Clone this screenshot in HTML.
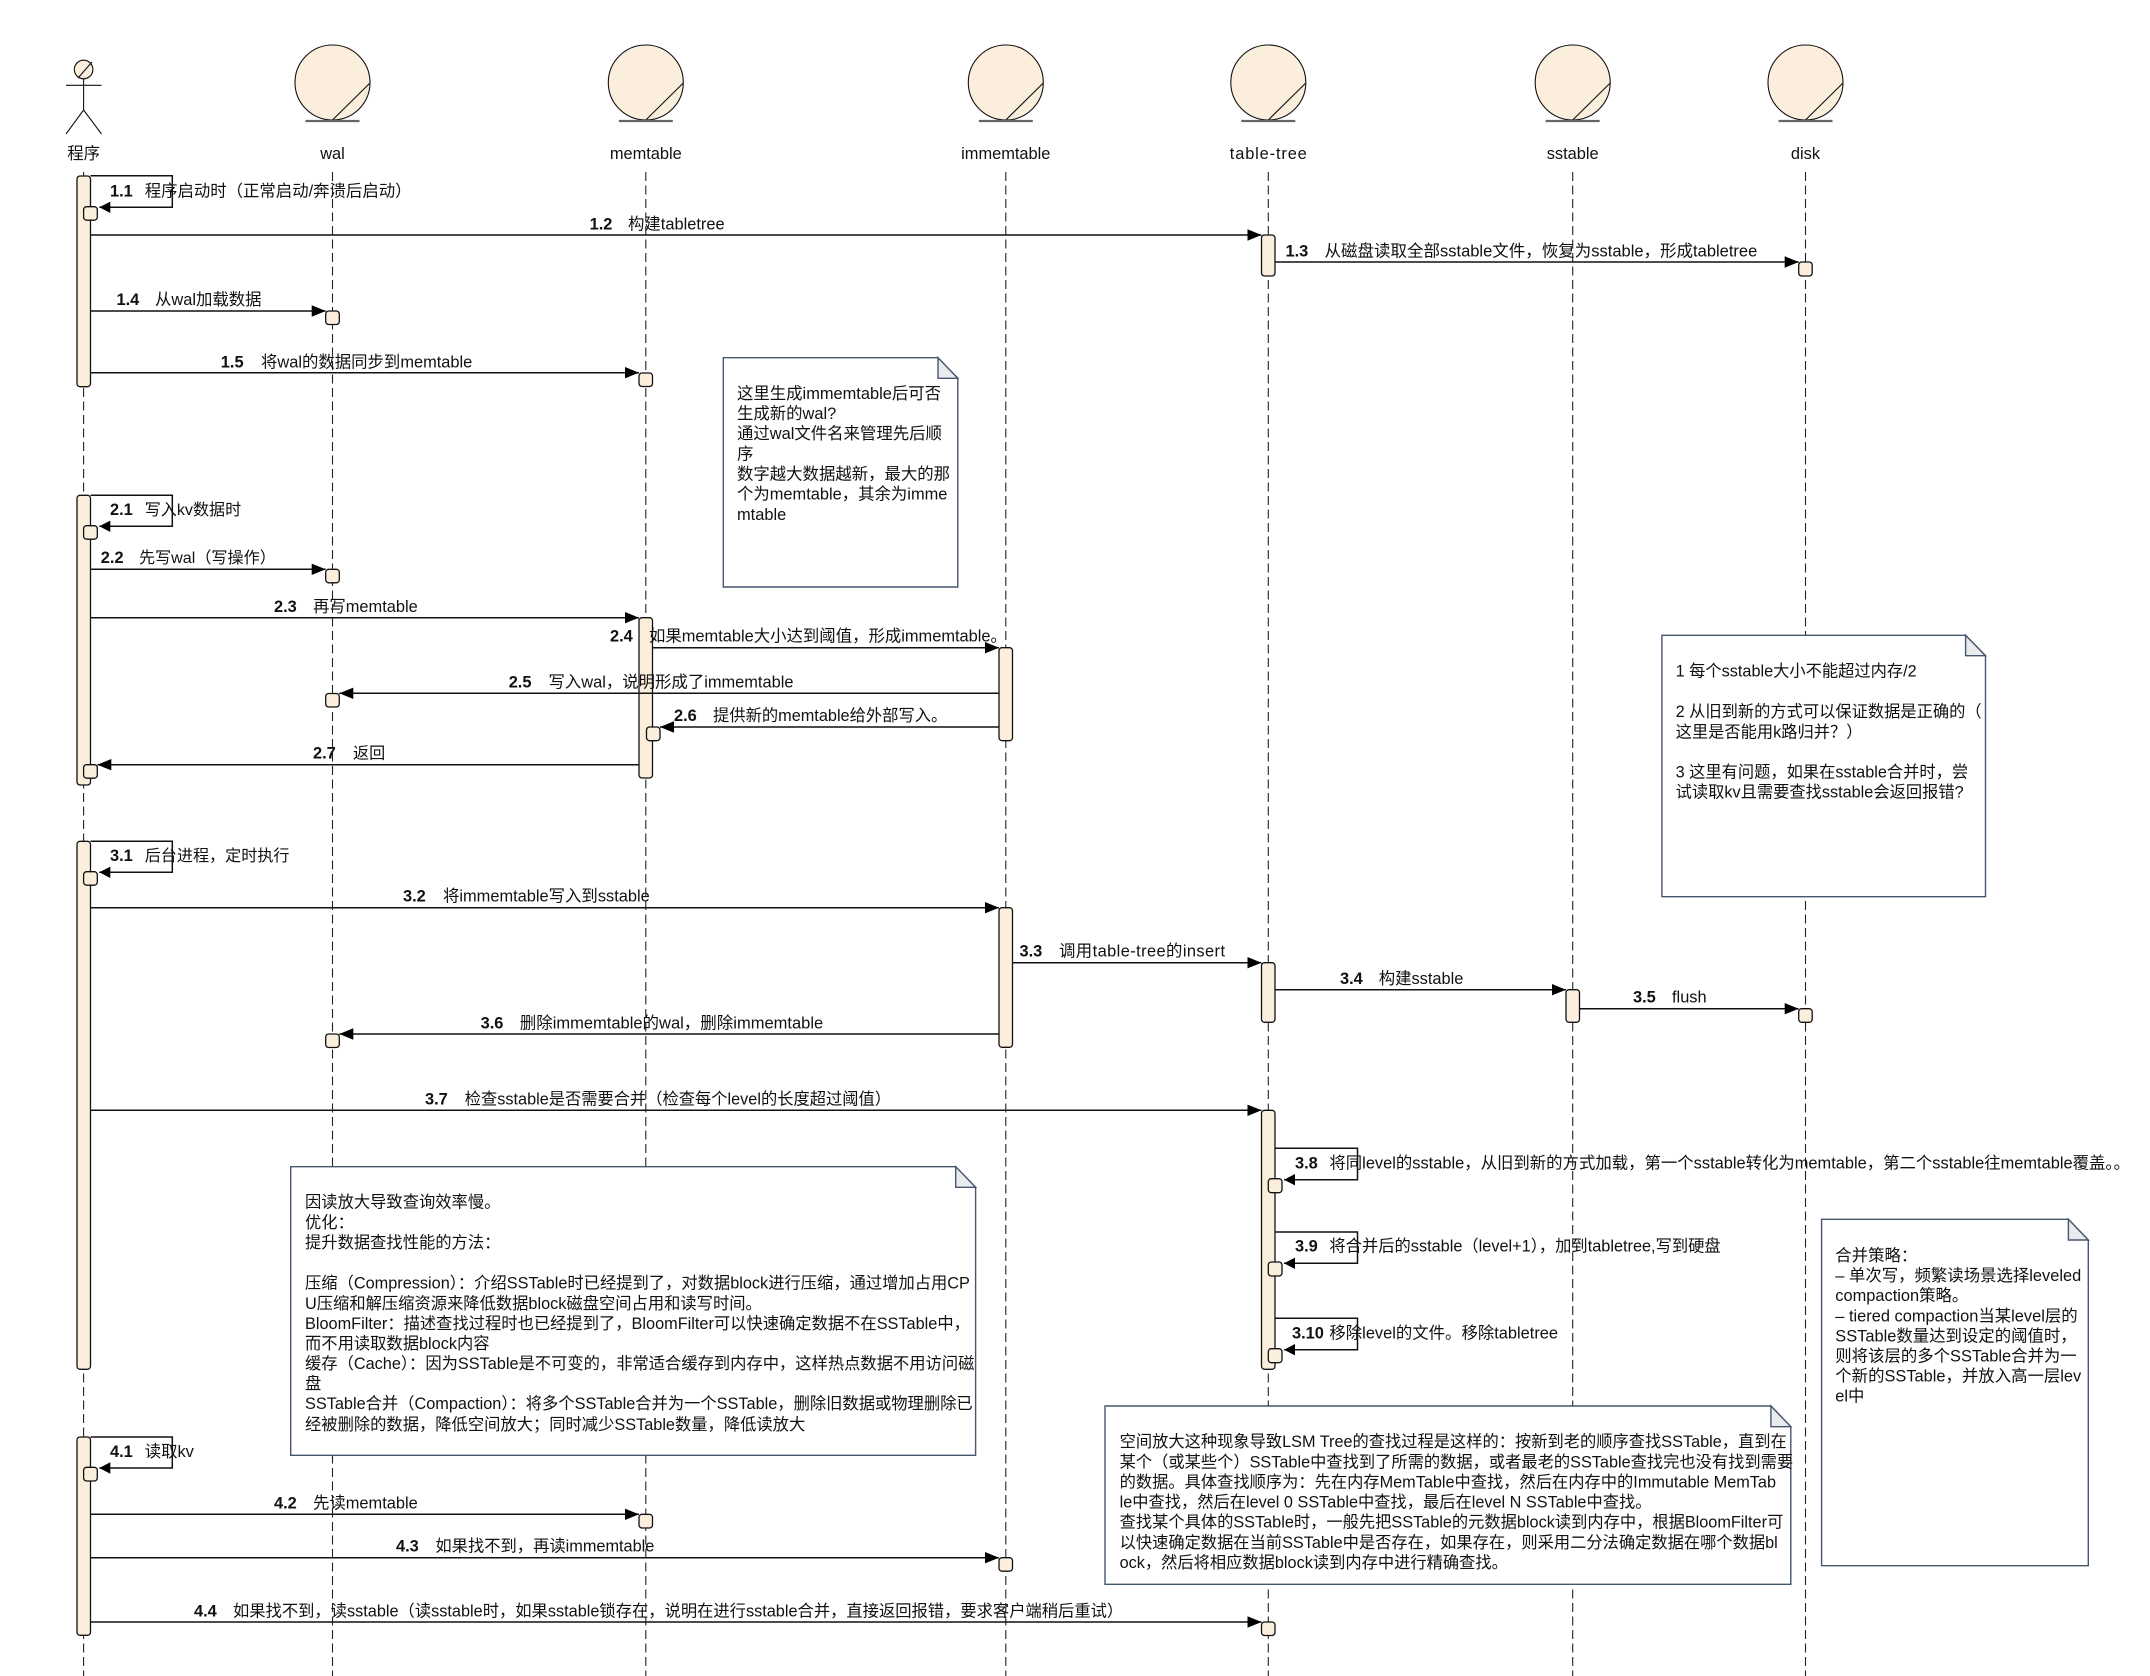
<!DOCTYPE html>
<html><head><meta charset="utf-8"><style>
html,body{margin:0;padding:0;background:#fff}
svg{display:block}
text{font-family:"Liberation Sans","Noto Sans CJK SC",sans-serif;font-size:16.4px;fill:#111}
.n{font-weight:bold}
.c{text-anchor:middle}
.life{stroke:#222;stroke-width:1.1;stroke-dasharray:9 4.5;fill:none}
.bar{fill:#fbeedd;stroke:#111;stroke-width:1.3}
.msg{stroke:#111;stroke-width:1.5;fill:none;marker-end:url(#a)}
.self{stroke:#111;stroke-width:1.5;fill:none;marker-end:url(#s)}
.note{fill:#fff;stroke:#46566e;stroke-width:1.4}
.fold{fill:#e9ebee;stroke:#46566e;stroke-width:1.4}
.ent{fill:#fbeedd;stroke:#111;stroke-width:1.1}
.base{stroke:#666;stroke-width:2.2}
.d{stroke:#111;stroke-width:1.1;fill:none}
.s1{font-size:16.1px}.s2{font-size:16.25px}.s3{font-size:16.3px}.s5{font-size:16.5px}
</style></head><body>
<svg xmlns="http://www.w3.org/2000/svg" width="2150" height="1676" viewBox="0 0 2150 1676">
<defs>
<marker id="a" markerUnits="userSpaceOnUse" markerWidth="15" markerHeight="13" refX="14" refY="6.5" orient="auto"><path d="M0 .8L14 6.5L0 12.2Z" fill="#000"/></marker>
<marker id="s" markerUnits="userSpaceOnUse" markerWidth="12" markerHeight="13" refX="11" refY="6.5" orient="auto"><path d="M0 .8L11 6.5L0 12.2Z" fill="#000"/></marker>
</defs>
<rect width="2150" height="1676" fill="#fff"/>

<!-- lifelines -->
<path class="life" d="M83.6 172V1676M332.5 172V1676M645.8 172V1676M1005.8 172V1676M1268.3 172V1676M1572.7 172V1676M1805.5 172V1676"/>

<!-- actor -->
<ellipse class="ent" cx="83.6" cy="69.5" rx="9.3" ry="9.3"/>
<path class="d" d="M78 78L92 62M66 85.3H101.5M83.6 79V110M83.6 110L66 134M83.6 110L101.5 134"/>
<!-- entities -->
<circle class="ent" cx="332.5" cy="82.5" r="37.5"/><path class="d" d="M332.5 120L370 83"/><path class="base" d="M305.5 121H359.5"/>
<circle class="ent" cx="645.8" cy="82.5" r="37.5"/><path class="d" d="M645.8 120L683.3 83"/><path class="base" d="M618.8 121H672.8"/>
<circle class="ent" cx="1005.8" cy="82.5" r="37.5"/><path class="d" d="M1005.8 120L1043.3 83"/><path class="base" d="M978.8 121H1032.8"/>
<circle class="ent" cx="1268.3" cy="82.5" r="37.5"/><path class="d" d="M1268.3 120L1305.8 83"/><path class="base" d="M1241.3 121H1295.3"/>
<circle class="ent" cx="1572.7" cy="82.5" r="37.5"/><path class="d" d="M1572.7 120L1610.2 83"/><path class="base" d="M1545.7 121H1599.7"/>
<circle class="ent" cx="1805.5" cy="82.5" r="37.5"/><path class="d" d="M1805.5 120L1843 83"/><path class="base" d="M1778.5 121H1832.5"/>
<g transform="translate(0,-1)">
<text class="c" x="83.6" y="160">程序</text>
<text class="c" x="332.5" y="160">wal</text>
<text class="c" x="645.8" y="160">memtable</text>
<text class="c" x="1005.8" y="160">immemtable</text>
<text class="c" x="1268.3" y="160" textLength="77">table-tree</text>
<text class="c" x="1572.7" y="160">sstable</text>
<text class="c" x="1805.5" y="160">disk</text>
</g>

<!-- big activation bars -->
<rect class="bar" x="77" y="176" width="13.5" height="210.7" rx="3"/>
<rect class="bar" x="77" y="495.3" width="13.5" height="289.7" rx="3"/>
<rect class="bar" x="77" y="841.3" width="13.5" height="528" rx="3"/>
<rect class="bar" x="77" y="1437" width="13.5" height="198.3" rx="3"/>
<rect class="bar" x="639" y="617.7" width="13.5" height="160.3" rx="3"/>
<rect class="bar" x="999" y="647.7" width="13.5" height="93" rx="3"/>
<rect class="bar" x="999" y="907.7" width="13.5" height="139.6" rx="3"/>
<rect class="bar" x="1261.5" y="235" width="13.5" height="41" rx="3"/>
<rect class="bar" x="1261.5" y="962.7" width="13.5" height="59.6" rx="3"/>
<rect class="bar" x="1261.5" y="1110.3" width="13.5" height="259" rx="3"/>
<rect class="bar" x="1566" y="989.7" width="13.5" height="32.6" rx="3"/>
<!-- small bars -->
<rect class="bar" x="83.6" y="206.7" width="13.7" height="13.5" rx="3"/>
<rect class="bar" x="325.7" y="311" width="13.6" height="13.5" rx="3"/>
<rect class="bar" x="639" y="373" width="13.5" height="13.5" rx="3"/>
<rect class="bar" x="1798.7" y="262" width="13.5" height="14" rx="3"/>
<rect class="bar" x="83.6" y="525.7" width="13.7" height="13.5" rx="3"/>
<rect class="bar" x="325.7" y="569.3" width="13.6" height="13.5" rx="3"/>
<rect class="bar" x="325.7" y="693.5" width="13.6" height="13.5" rx="3"/>
<rect class="bar" x="646.5" y="727" width="13.5" height="13.7" rx="3"/>
<rect class="bar" x="83.6" y="764.7" width="13.7" height="13.5" rx="3"/>
<rect class="bar" x="83.6" y="871.7" width="13.7" height="13.5" rx="3"/>
<rect class="bar" x="325.7" y="1034" width="13.6" height="13.5" rx="3"/>
<rect class="bar" x="1798.7" y="1008.7" width="13.5" height="13.6" rx="3"/>
<rect class="bar" x="1268.3" y="1178.7" width="13.7" height="14" rx="3"/>
<rect class="bar" x="1268.3" y="1262" width="13.7" height="14" rx="3"/>
<rect class="bar" x="1268.3" y="1348.7" width="13.7" height="14" rx="3"/>
<rect class="bar" x="83.6" y="1467.3" width="13.7" height="13.7" rx="3"/>
<rect class="bar" x="639" y="1514.3" width="13.5" height="13.7" rx="3"/>
<rect class="bar" x="999" y="1557.7" width="13.5" height="13.5" rx="3"/>
<rect class="bar" x="1261.5" y="1622" width="13.5" height="13.5" rx="3"/>

<!-- messages -->
<path class="self" d="M90.5 175.7H172.3V207.3H99.3"/>
<path class="msg" d="M90.5 235H1261.5"/>
<path class="msg" d="M1275 262H1798.7"/>
<path class="msg" d="M90.5 311H325.7"/>
<path class="msg" d="M90.5 372.7H639"/>
<path class="self" d="M90.5 495.3H172.3V526.3H99.3"/>
<path class="msg" d="M90.5 569.3H325.7"/>
<path class="msg" d="M90.5 617.7H639"/>
<path class="msg" d="M652.5 647.7H999"/>
<path class="msg" d="M999 693.3H339.3"/>
<path class="msg" d="M999 727H660"/>
<path class="msg" d="M639 764.7H97.3"/>
<path class="self" d="M90.5 841.3H172.3V872.3H99.3"/>
<path class="msg" d="M90.5 907.7H999"/>
<path class="msg" d="M1012.5 962.7H1261.5"/>
<path class="msg" d="M1275 989.7H1566"/>
<path class="msg" d="M1579.5 1008.7H1798.7"/>
<path class="msg" d="M999 1034H339.3"/>
<path class="msg" d="M90.5 1110.3H1261.5"/>
<path class="self" d="M1275 1148.3H1357.5V1179.7H1284"/>
<path class="self" d="M1275 1232H1357.5V1263.3H1284"/>
<path class="self" d="M1275 1318.3H1357.5V1349.7H1284"/>
<path class="self" d="M90.5 1437H172.3V1468H99.3"/>
<path class="msg" d="M90.5 1514.3H639"/>
<path class="msg" d="M90.5 1557.7H999"/>
<path class="msg" d="M90.5 1622H1261.5"/>

<!-- notes -->
<path class="note" d="M723.3 357.7H938L957.8 378.3V587H723.3Z"/><path class="fold" d="M938 357.7V378.3H957.8Z"/>
<path class="note" d="M1661.9 635.3H1965.6L1985.5 655.7V896.7H1661.9Z"/><path class="fold" d="M1965.6 635.3V655.7H1985.5Z"/>
<path class="note" d="M290.7 1166.7H955.7L975.6 1187.3V1455.3H290.7Z"/><path class="fold" d="M955.7 1166.7V1187.3H975.6Z"/>
<path class="note" d="M1105 1406H1770.9L1790.8 1426.7V1584.3H1105Z"/><path class="fold" d="M1770.9 1406V1426.7H1790.8Z"/>
<path class="note" d="M1821.6 1219.3H2068.4L2088.3 1240V1565.7H1821.6Z"/><path class="fold" d="M2068.4 1219.3V1240H2088.3Z"/>

<g transform="translate(0,-1)">
<!-- message labels -->
<text y="197.5"><tspan class="n" x="110">1.1</tspan><tspan x="144.7">程序启动时（正常启动/奔溃后启动）</tspan></text>
<text y="230.5"><tspan class="n" x="589.6">1.2</tspan><tspan x="628">构建tabletree</tspan></text>
<text y="257.5"><tspan class="n" x="1285.5">1.3</tspan><tspan class="s5" x="1324.5">从磁盘读取全部sstable文件，恢复为sstable，形成tabletree</tspan></text>
<text y="306"><tspan class="n" x="116.5">1.4</tspan><tspan x="155">从wal加载数据</tspan></text>
<text y="368.5"><tspan class="n" x="220.8">1.5</tspan><tspan x="261">将wal的数据同步到memtable</tspan></text>
<text y="516"><tspan class="n" x="110">2.1</tspan><tspan class="s1" x="144.7">写入kv数据时</tspan></text>
<text y="564"><tspan class="n" x="100.8">2.2</tspan><tspan class="s1" x="139">先写wal（写操作）</tspan></text>
<text y="613"><tspan class="n" x="274">2.3</tspan><tspan x="313">再写memtable</tspan></text>
<text y="642.7"><tspan class="n" x="610">2.4</tspan><tspan x="649">如果memtable大小达到阈值，形成immemtable。</tspan></text>
<text y="688.7"><tspan class="n" x="508.7">2.5</tspan><tspan x="548.5">写入wal，说明形成了immemtable</tspan></text>
<text y="722"><tspan class="n" x="674">2.6</tspan><tspan class="s3" x="713">提供新的memtable给外部写入。</tspan></text>
<text y="759.3"><tspan class="n" x="313">2.7</tspan><tspan class="s1" x="353">返回</tspan></text>
<text y="862"><tspan class="n" x="110">3.1</tspan><tspan class="s1" x="144.7">后台进程，定时执行</tspan></text>
<text y="902.7"><tspan class="n" x="403">3.2</tspan><tspan x="443">将immemtable写入到sstable</tspan></text>
<text y="957.7"><tspan class="n" x="1019.5">3.3</tspan></text>
<text y="957.7" x="1059" textLength="166">调用table-tree的insert</text>
<text y="985"><tspan class="n" x="1340">3.4</tspan><tspan x="1378.7">构建sstable</tspan></text>
<text y="1003.7"><tspan class="n" x="1633">3.5</tspan><tspan x="1672">flush</tspan></text>
<text y="1029.3"><tspan class="n" x="480.6">3.6</tspan><tspan class="s5" x="519.7">删除immemtable的wal，删除immemtable</tspan></text>
<text y="1105.3"><tspan class="n" x="425">3.7</tspan><tspan class="s2" x="464.8">检查sstable是否需要合并（检查每个level的长度超过阈值）</tspan></text>
<text y="1169.3"><tspan class="n" x="1295">3.8</tspan><tspan x="1329.4">将同level的sstable，从旧到新的方式加载，第一个sstable转化为memtable，第二个sstable往memtable覆盖。。</tspan></text>
<text y="1252.7"><tspan class="n" x="1295">3.9</tspan><tspan class="s3" x="1329.4">将合并后的sstable（level+1），加到tabletree,写到硬盘</tspan></text>
<text y="1339.3"><tspan class="n" x="1292">3.10</tspan><tspan x="1329.4">移除level的文件。移除tabletree</tspan></text>
<text y="1458"><tspan class="n" x="110">4.1</tspan><tspan x="144.7">读取kv</tspan></text>
<text y="1509.7"><tspan class="n" x="274">4.2</tspan><tspan x="313">先读memtable</tspan></text>
<text y="1552.7"><tspan class="n" x="396">4.3</tspan><tspan class="s3" x="435.4">如果找不到，再读immemtable</tspan></text>
<text y="1617.7"><tspan class="n" x="194">4.4</tspan><tspan class="s3" x="233">如果找不到，读sstable（读sstable时，如果sstable锁存在，说明在进行sstable合并，直接返回报错，要求客户端稍后重试）</tspan></text>

<!-- note text -->
<text x="737" y="400">这里生成immemtable后可否</text>
<text x="737" y="420">生成新的wal?</text>
<text x="737" y="440">通过wal文件名来管理先后顺</text>
<text x="737" y="460.3">序</text>
<text x="737" y="480.3">数字越大数据越新，最大的那</text>
<text x="737" y="500.7">个为memtable，其余为imme</text>
<text x="737" y="521">mtable</text>

<text class="s2" x="1675.6" y="677.7">1 每个sstable大小不能超过内存/2</text>
<text class="s2" x="1675.6" y="718">2 从旧到新的方式可以保证数据是正确的（</text>
<text class="s2" x="1675.6" y="738.3">这里是否能用k路归并？）</text>
<text class="s2" x="1675.6" y="778.7">3 这里有问题，如果在sstable合并时，尝</text>
<text class="s2" x="1675.6" y="798.7">试读取kv且需要查找sstable会返回报错?</text>

<text class="s3" x="305" y="1208.7">因读放大导致查询效率慢。</text>
<text class="s3" x="305" y="1229">优化：</text>
<text class="s3" x="305" y="1249">提升数据查找性能的方法：</text>
<text class="s3" x="305" y="1289.3">压缩（Compression）：介绍SSTable时已经提到了，对数据block进行压缩，通过增加占用CP</text>
<text class="s3" x="305" y="1310">U压缩和解压缩资源来降低数据block磁盘空间占用和读写时间。</text>
<text class="s3" x="305" y="1330">BloomFilter：描述查找过程时也已经提到了，BloomFilter可以快速确定数据不在SSTable中，</text>
<text class="s3" x="305" y="1350">而不用读取数据block内容</text>
<text class="s3" x="305" y="1370">缓存（Cache）：因为SSTable是不可变的，非常适合缓存到内存中，这样热点数据不用访问磁</text>
<text class="s3" x="305" y="1390">盘</text>
<text class="s3" x="305" y="1410">SSTable合并（Compaction）：将多个SSTable合并为一个SSTable，删除旧数据或物理删除已</text>
<text class="s3" x="305" y="1431">经被删除的数据，降低空间放大；同时减少SSTable数量，降低读放大</text>

<text class="s2" x="1119.6" y="1448">空间放大这种现象导致LSM Tree的查找过程是这样的：按新到老的顺序查找SSTable，直到在</text>
<text class="s2" x="1119.6" y="1468.7">某个（或某些个）SSTable中查找到了所需的数据，或者最老的SSTable查找完也没有找到需要</text>
<text class="s2" x="1119.6" y="1488.7">的数据。具体查找顺序为：先在内存MemTable中查找，然后在内存中的Immutable MemTab</text>
<text class="s2" x="1119.6" y="1508.7">le中查找，然后在level 0 SSTable中查找，最后在level N SSTable中查找。</text>
<text class="s2" x="1119.6" y="1528.7">查找某个具体的SSTable时，一般先把SSTable的元数据block读到内存中，根据BloomFilter可</text>
<text class="s2" x="1119.6" y="1549">以快速确定数据在当前SSTable中是否存在，如果存在，则采用二分法确定数据在哪个数据bl</text>
<text class="s2" x="1119.6" y="1569">ock，然后将相应数据block读到内存中进行精确查找。</text>

<text x="1835.3" y="1262">合并策略：</text>
<text x="1835.3" y="1282">– 单次写，频繁读场景选择leveled</text>
<text x="1835.3" y="1302">compaction策略。</text>
<text x="1835.3" y="1322.3">– tiered compaction当某level层的</text>
<text x="1835.3" y="1342.3">SSTable数量达到设定的阈值时，</text>
<text x="1835.3" y="1362.7">则将该层的多个SSTable合并为一</text>
<text x="1835.3" y="1382.7">个新的SSTable，并放入高一层lev</text>
<text x="1835.3" y="1402.7">el中</text>
</g>
</svg>
</body></html>
